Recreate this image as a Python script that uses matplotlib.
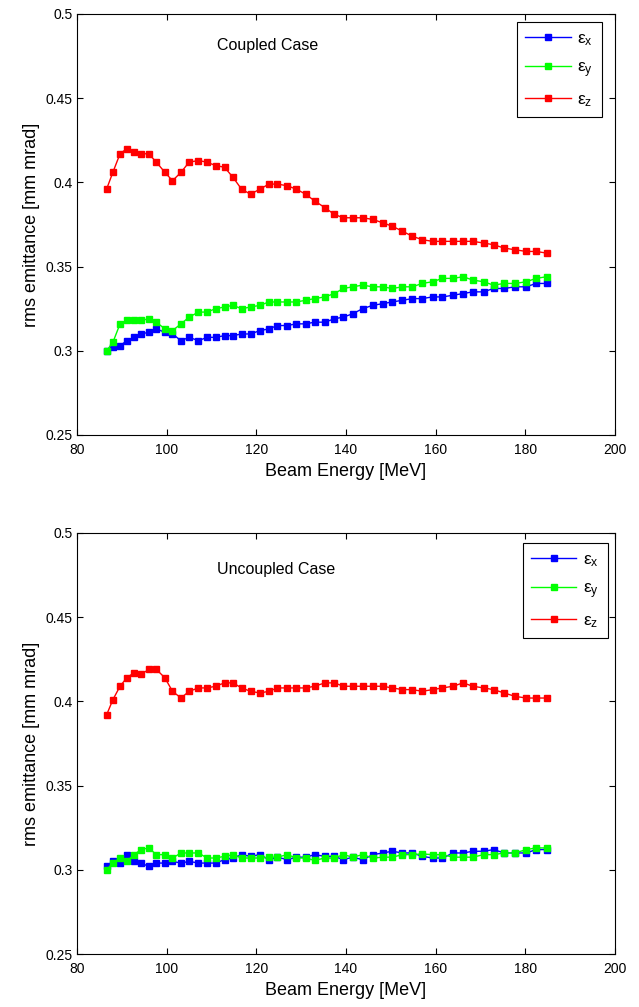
import matplotlib
matplotlib.use("Agg")
import matplotlib.pyplot as plt

plt.rcParams['font.family'] = ['Liberation Sans', 'DejaVu Sans']
plt.rcParams['mathtext.fontset'] = 'custom'
plt.rcParams['mathtext.rm'] = 'Liberation Sans'
plt.rcParams['mathtext.it'] = 'Liberation Sans'

energy = [86.6, 88.0, 89.6, 91.1, 92.7, 94.3, 96.0, 97.7, 99.6, 101.3,
          103.2, 105.0, 107.1, 109.0, 110.9, 112.9, 114.8, 116.7, 118.7, 120.8,
          122.8, 124.7, 126.9, 128.9, 131.0, 133.0, 135.3, 137.4, 139.4, 141.5,
          143.7, 146.0, 148.2, 150.3, 152.6, 154.8, 157.0, 159.3, 161.5, 163.9,
          166.1, 168.3, 170.7, 172.9, 175.3, 177.7, 180.2, 182.4, 184.8]

# Coupled case
coupled_ex = [0.300, 0.302, 0.303, 0.306, 0.308, 0.310, 0.311, 0.313, 0.311, 0.310,
              0.306, 0.308, 0.306, 0.308, 0.308, 0.309, 0.309, 0.310, 0.310, 0.312,
              0.313, 0.315, 0.315, 0.316, 0.316, 0.317, 0.317, 0.319, 0.320, 0.322,
              0.325, 0.327, 0.328, 0.329, 0.330, 0.331, 0.331, 0.332, 0.332, 0.333,
              0.334, 0.335, 0.335, 0.337, 0.337, 0.338, 0.338, 0.340, 0.340]
coupled_ey = [0.300, 0.305, 0.316, 0.318, 0.318, 0.318, 0.319, 0.317, 0.313, 0.312,
              0.316, 0.320, 0.323, 0.323, 0.325, 0.326, 0.327, 0.325, 0.326, 0.327,
              0.329, 0.329, 0.329, 0.329, 0.330, 0.331, 0.332, 0.334, 0.337, 0.338,
              0.339, 0.338, 0.338, 0.337, 0.338, 0.338, 0.340, 0.341, 0.343, 0.343,
              0.344, 0.342, 0.341, 0.339, 0.340, 0.340, 0.341, 0.343, 0.344]
coupled_ez = [0.396, 0.406, 0.417, 0.420, 0.418, 0.417, 0.417, 0.412, 0.406, 0.401,
              0.406, 0.412, 0.413, 0.412, 0.410, 0.409, 0.403, 0.396, 0.393, 0.396,
              0.399, 0.399, 0.398, 0.396, 0.393, 0.389, 0.385, 0.381, 0.379, 0.379,
              0.379, 0.378, 0.376, 0.374, 0.371, 0.368, 0.366, 0.365, 0.365, 0.365,
              0.365, 0.365, 0.364, 0.363, 0.361, 0.360, 0.359, 0.359, 0.358]

# Uncoupled case
uncoupled_ex = [0.302, 0.305, 0.304, 0.309, 0.305, 0.304, 0.302, 0.304, 0.304, 0.305,
                0.304, 0.305, 0.304, 0.304, 0.304, 0.306, 0.307, 0.309, 0.308, 0.309,
                0.306, 0.3075, 0.306, 0.3075, 0.3075, 0.309, 0.308, 0.308, 0.306, 0.3075,
                0.306, 0.309, 0.310, 0.311, 0.310, 0.310, 0.308, 0.307, 0.307, 0.310,
                0.310, 0.311, 0.311, 0.312, 0.310, 0.310, 0.310, 0.312, 0.312]
uncoupled_ey = [0.300, 0.304, 0.307, 0.305, 0.309, 0.312, 0.313, 0.309, 0.309, 0.307,
                0.310, 0.310, 0.310, 0.307, 0.307, 0.308, 0.309, 0.307, 0.307, 0.307,
                0.3075, 0.3075, 0.309, 0.307, 0.307, 0.3056, 0.307, 0.307, 0.309, 0.3075,
                0.309, 0.307, 0.3075, 0.3075, 0.309, 0.309, 0.3094, 0.309, 0.309, 0.3075,
                0.3075, 0.3075, 0.309, 0.309, 0.310, 0.310, 0.312, 0.313, 0.313]
uncoupled_ez = [0.392, 0.401, 0.409, 0.414, 0.417, 0.416, 0.419, 0.419, 0.414, 0.406,
                0.402, 0.406, 0.408, 0.408, 0.409, 0.411, 0.411, 0.408, 0.406, 0.405,
                0.406, 0.408, 0.408, 0.408, 0.408, 0.409, 0.411, 0.411, 0.409, 0.409,
                0.409, 0.409, 0.409, 0.408, 0.407, 0.407, 0.406, 0.407, 0.408, 0.409,
                0.411, 0.409, 0.408, 0.407, 0.405, 0.403, 0.402, 0.402, 0.402]

series_labels = ['ε$_x$', 'ε$_y$', 'ε$_z$']
series_colors = ['#0000ff', '#00ff00', '#ff0000']
titles = ['Coupled Case', 'Uncoupled Case']
xticks = [80, 100, 120, 140, 160, 180, 200]
yticks = [0.25, 0.3, 0.35, 0.4, 0.45, 0.5]
ytick_labels = ['0.25', '0.3', '0.35', '0.4', '0.45', '0.5']

fig = plt.figure(figsize=(6.39, 10.07), dpi=100)
ax1 = fig.add_axes([77/639, 1 - 435/1007, 538/639, 421/1007])
ax2 = fig.add_axes([77/639, 1 - 954/1007, 538/639, 421/1007])

data = [(coupled_ex, coupled_ey, coupled_ez), (uncoupled_ex, uncoupled_ey, uncoupled_ez)]
legend_anchor = [(0.976, 0.981), (0.987, 0.976)]
title_y = [0.4815, 0.4785]

for ax, ser, title, anc, ty in zip([ax1, ax2], data, titles, legend_anchor, title_y):
    for vals, col, lab in zip(ser, series_colors, series_labels):
        ax.plot(energy, vals, color=col, marker='s', markersize=4.6,
                linewidth=1.0, label=lab)
    ax.set_xlim(80, 200)
    ax.set_ylim(0.25, 0.5)
    ax.set_xticks(xticks)
    ax.set_yticks(yticks)
    ax.set_yticklabels(ytick_labels)
    ax.tick_params(direction='in', top=True, right=True, labelsize=10,
                   length=4, width=0.8)
    ax.tick_params(axis='x', pad=6)
    ax.tick_params(axis='y', pad=3)
    for sp in ax.spines.values():
        sp.set_linewidth(0.8)
    ax.set_xlabel('Beam Energy [MeV]', fontsize=13, labelpad=4)
    ax.set_ylabel('rms emittance [mm mrad]', fontsize=13, labelpad=4)
    ax.text(111.2, ty, title, fontsize=11.5, ha='left', va='center')
    leg = ax.legend(loc='upper right', bbox_to_anchor=anc, fontsize=12.5,
                    fancybox=False, edgecolor='black', framealpha=1,
                    handlelength=2.6, handletextpad=0.4, borderpad=0.5,
                    labelspacing=0.7, markerscale=1.0, borderaxespad=0)
    leg.get_frame().set_linewidth(0.8)

fig.savefig('out.png', dpi=100)
